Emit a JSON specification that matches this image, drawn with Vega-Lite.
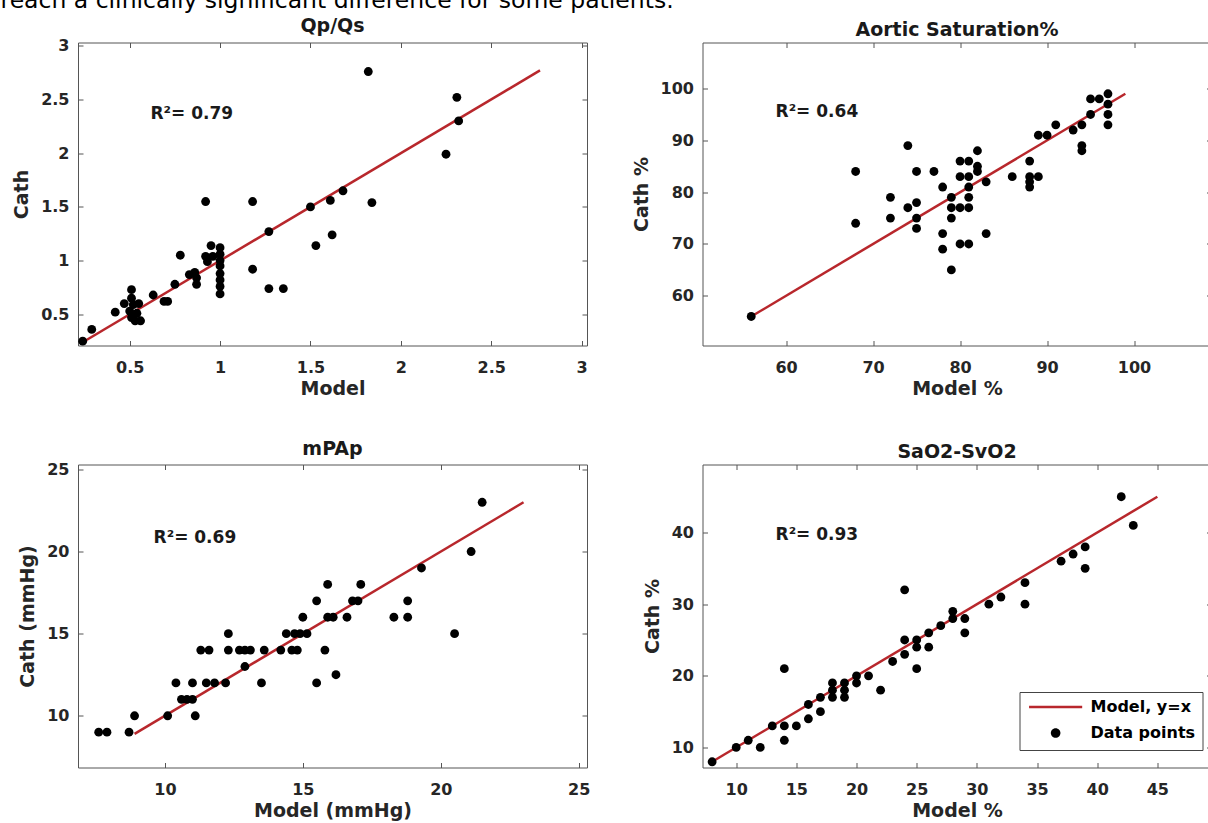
{
  "$schema": "https://vega.github.io/schema/vega-lite/v6.json",
  "usermeta": {"embedOptions": {"actions": false}},
  "background": "white",
  "padding": {"left": 0, "top": -11.5, "right": 0, "bottom": 0},
  "title": {"text": "reach a clinically significant difference for some patients.", "anchor": "start", "frame": "group", "dx": -77.5, "fontSize": 23.5, "fontWeight": "normal", "color": "#000000", "offset": 4, "font": "DejaVu Sans"},
  "columns": 2,
  "spacing": {"row": 119, "column": 115.5},
  "bounds": "flush",
  "datasets": {
    "qp": [
      {"model": 0.24, "cath": 0.25}, {"model": 0.29, "cath": 0.36}, {"model": 0.42, "cath": 0.52}, {"model": 0.47, "cath": 0.6},
      {"model": 0.51, "cath": 0.73}, {"model": 0.51, "cath": 0.65}, {"model": 0.52, "cath": 0.59}, {"model": 0.5, "cath": 0.53},
      {"model": 0.51, "cath": 0.47}, {"model": 0.53, "cath": 0.44}, {"model": 0.56, "cath": 0.44}, {"model": 0.54, "cath": 0.51},
      {"model": 0.55, "cath": 0.6}, {"model": 0.63, "cath": 0.68}, {"model": 0.69, "cath": 0.62}, {"model": 0.71, "cath": 0.62},
      {"model": 0.75, "cath": 0.78}, {"model": 0.78, "cath": 1.05}, {"model": 0.83, "cath": 0.87}, {"model": 0.86, "cath": 0.89},
      {"model": 0.87, "cath": 0.84}, {"model": 0.87, "cath": 0.78}, {"model": 0.92, "cath": 1.55}, {"model": 0.92, "cath": 1.04},
      {"model": 0.93, "cath": 0.99}, {"model": 0.95, "cath": 1.14}, {"model": 0.96, "cath": 1.04}, {"model": 1.0, "cath": 1.12},
      {"model": 1.0, "cath": 1.06}, {"model": 1.0, "cath": 1.0}, {"model": 1.0, "cath": 0.95}, {"model": 1.0, "cath": 0.88},
      {"model": 1.0, "cath": 0.82}, {"model": 1.0, "cath": 0.76}, {"model": 1.0, "cath": 0.69}, {"model": 1.18, "cath": 1.55},
      {"model": 1.18, "cath": 0.92}, {"model": 1.27, "cath": 1.27}, {"model": 1.27, "cath": 0.74}, {"model": 1.35, "cath": 0.74},
      {"model": 1.5, "cath": 1.5}, {"model": 1.53, "cath": 1.14}, {"model": 1.61, "cath": 1.56}, {"model": 1.62, "cath": 1.24},
      {"model": 1.68, "cath": 1.65}, {"model": 1.82, "cath": 2.76}, {"model": 1.84, "cath": 1.54}, {"model": 2.25, "cath": 1.99},
      {"model": 2.31, "cath": 2.52}, {"model": 2.32, "cath": 2.3}
    ],
    "qp_fit": [{"v": 0.24}, {"v": 2.77}],
    "ao": [
      {"model": 56, "cath": 56}, {"model": 68, "cath": 84}, {"model": 68, "cath": 74}, {"model": 72, "cath": 79}, {"model": 72, "cath": 75},
      {"model": 74, "cath": 89}, {"model": 74, "cath": 77}, {"model": 75, "cath": 84}, {"model": 75, "cath": 78}, {"model": 75, "cath": 75},
      {"model": 75, "cath": 73}, {"model": 77, "cath": 84}, {"model": 78, "cath": 81}, {"model": 78, "cath": 72}, {"model": 78, "cath": 69},
      {"model": 79, "cath": 79}, {"model": 79, "cath": 77}, {"model": 79, "cath": 75}, {"model": 79, "cath": 65}, {"model": 80, "cath": 86},
      {"model": 80, "cath": 83}, {"model": 80, "cath": 77}, {"model": 80, "cath": 70}, {"model": 81, "cath": 86}, {"model": 81, "cath": 83},
      {"model": 81, "cath": 81}, {"model": 81, "cath": 79}, {"model": 81, "cath": 77}, {"model": 81, "cath": 70}, {"model": 82, "cath": 88},
      {"model": 82, "cath": 85}, {"model": 82, "cath": 84}, {"model": 83, "cath": 82}, {"model": 83, "cath": 72}, {"model": 86, "cath": 83},
      {"model": 88, "cath": 86}, {"model": 88, "cath": 83}, {"model": 88, "cath": 82}, {"model": 88, "cath": 81}, {"model": 89, "cath": 83},
      {"model": 89, "cath": 91}, {"model": 90, "cath": 91}, {"model": 91, "cath": 93}, {"model": 93, "cath": 92}, {"model": 94, "cath": 93},
      {"model": 94, "cath": 89}, {"model": 94, "cath": 88}, {"model": 95, "cath": 95}, {"model": 95, "cath": 98}, {"model": 96, "cath": 98},
      {"model": 97, "cath": 99}, {"model": 97, "cath": 97}, {"model": 97, "cath": 95}, {"model": 97, "cath": 93}
    ],
    "ao_fit": [{"v": 56}, {"v": 99}],
    "mpap": [
      {"model": 7.6, "cath": 9}, {"model": 7.9, "cath": 9}, {"model": 8.7, "cath": 9}, {"model": 8.9, "cath": 10}, {"model": 10.1, "cath": 10},
      {"model": 10.4, "cath": 12}, {"model": 10.6, "cath": 11}, {"model": 10.8, "cath": 11}, {"model": 11.0, "cath": 11}, {"model": 11.1, "cath": 10},
      {"model": 11.0, "cath": 12}, {"model": 11.3, "cath": 14}, {"model": 11.6, "cath": 14}, {"model": 11.5, "cath": 12}, {"model": 11.8, "cath": 12},
      {"model": 12.2, "cath": 12}, {"model": 12.3, "cath": 15}, {"model": 12.3, "cath": 14}, {"model": 12.7, "cath": 14}, {"model": 12.9, "cath": 14},
      {"model": 12.9, "cath": 13}, {"model": 13.1, "cath": 14}, {"model": 13.5, "cath": 12}, {"model": 13.6, "cath": 14}, {"model": 14.2, "cath": 14},
      {"model": 14.6, "cath": 14}, {"model": 14.8, "cath": 14}, {"model": 14.4, "cath": 15}, {"model": 14.7, "cath": 15}, {"model": 14.9, "cath": 15},
      {"model": 15.15, "cath": 15}, {"model": 15.5, "cath": 12}, {"model": 15.8, "cath": 14}, {"model": 16.2, "cath": 12.5}, {"model": 15.0, "cath": 16},
      {"model": 15.9, "cath": 16}, {"model": 16.1, "cath": 16}, {"model": 16.6, "cath": 16}, {"model": 15.5, "cath": 17}, {"model": 16.8, "cath": 17},
      {"model": 17.0, "cath": 17}, {"model": 15.9, "cath": 18}, {"model": 17.1, "cath": 18}, {"model": 18.3, "cath": 16}, {"model": 18.8, "cath": 16},
      {"model": 18.8, "cath": 17}, {"model": 19.3, "cath": 19}, {"model": 20.5, "cath": 15}, {"model": 21.1, "cath": 20}, {"model": 21.5, "cath": 23}
    ],
    "mpap_fit": [{"v": 8.9}, {"v": 23}],
    "sa": [
      {"model": 8, "cath": 8}, {"model": 10, "cath": 10}, {"model": 11, "cath": 11}, {"model": 12, "cath": 10}, {"model": 13, "cath": 13},
      {"model": 14, "cath": 13}, {"model": 14, "cath": 11}, {"model": 14, "cath": 21}, {"model": 15, "cath": 13}, {"model": 16, "cath": 14},
      {"model": 16, "cath": 16}, {"model": 17, "cath": 15}, {"model": 17, "cath": 17}, {"model": 18, "cath": 17}, {"model": 18, "cath": 18},
      {"model": 18, "cath": 19}, {"model": 19, "cath": 17}, {"model": 19, "cath": 18}, {"model": 19, "cath": 19}, {"model": 20, "cath": 19},
      {"model": 20, "cath": 20}, {"model": 21, "cath": 20}, {"model": 22, "cath": 18}, {"model": 23, "cath": 22}, {"model": 24, "cath": 32},
      {"model": 24, "cath": 25}, {"model": 24, "cath": 23}, {"model": 25, "cath": 25}, {"model": 25, "cath": 24}, {"model": 25, "cath": 21},
      {"model": 26, "cath": 26}, {"model": 26, "cath": 24}, {"model": 27, "cath": 27}, {"model": 28, "cath": 29}, {"model": 28, "cath": 28},
      {"model": 29, "cath": 28}, {"model": 29, "cath": 26}, {"model": 31, "cath": 30}, {"model": 32, "cath": 31}, {"model": 34, "cath": 33},
      {"model": 34, "cath": 30}, {"model": 37, "cath": 36}, {"model": 38, "cath": 37}, {"model": 39, "cath": 38}, {"model": 39, "cath": 35},
      {"model": 42, "cath": 45}, {"model": 43, "cath": 41}
    ],
    "sa_fit": [{"v": 8}, {"v": 45}]
  },
  "concat": [
    {
      "title": "Qp/Qs",
      "width": 509, "height": 303,
      "resolve": {"axis": {"x": "independent", "y": "independent"}},
      "layer": [
        {
          "data": {"name": "qp_fit"},
          "mark": {"type": "line", "color": "#b8272c", "strokeWidth": 2.5},
          "encoding": {
            "x": {"field": "v", "type": "quantitative", "scale": {"domain": [0.214, 3.03], "nice": false, "zero": false},
                  "axis": {"orient": "top", "labels": false, "title": null, "values": [0.5, 1, 1.5, 2, 2.5, 3]}},
            "y": {"field": "v", "type": "quantitative", "scale": {"domain": [0.21, 3.03], "nice": false, "zero": false},
                  "axis": {"orient": "right", "labels": false, "title": null, "values": [0.5, 1, 1.5, 2, 2.5, 3]}}
          }
        },
        {
          "data": {"name": "qp"},
          "mark": {"type": "circle", "size": 78, "opacity": 1, "color": "#000000"},
          "encoding": {
            "x": {"field": "model", "type": "quantitative", "scale": {"domain": [0.214, 3.03], "nice": false, "zero": false},
                  "axis": {"orient": "bottom", "title": "Model", "values": [0.5, 1, 1.5, 2, 2.5, 3], "format": "~g", "labelPadding": 19, "titlePadding": 4}},
            "y": {"field": "cath", "type": "quantitative", "scale": {"domain": [0.21, 3.03], "nice": false, "zero": false},
                  "axis": {"orient": "left", "title": "Cath", "values": [0.5, 1, 1.5, 2, 2.5, 3], "format": "~g", "labelPadding": 14, "titlePadding": 9}}
          }
        },
        {
          "data": {"values": [{"label": "R²= 0.79"}]},
          "mark": {"type": "text", "align": "left", "baseline": "alphabetic", "fontSize": 17, "fontWeight": "bold", "font": "DejaVu Sans", "color": "#1a1a1a"},
          "encoding": {
            "x": {"datum": 0.615, "type": "quantitative", "axis": null},
            "y": {"datum": 2.32, "type": "quantitative", "axis": null},
            "text": {"field": "label"}
          }
        }
      ]
    },
    {
      "title": "Aortic Saturation%",
      "width": 509, "height": 303,
      "resolve": {"axis": {"x": "independent", "y": "independent"}},
      "layer": [
        {
          "data": {"name": "ao_fit"},
          "mark": {"type": "line", "color": "#b8272c", "strokeWidth": 2.5},
          "encoding": {
            "x": {"field": "v", "type": "quantitative", "scale": {"domain": [50.4, 108.9], "nice": false, "zero": false},
                  "axis": {"orient": "top", "labels": false, "title": null, "values": [60, 70, 80, 90, 100]}},
            "y": {"field": "v", "type": "quantitative", "scale": {"domain": [50.4, 108.9], "nice": false, "zero": false},
                  "axis": {"orient": "right", "labels": false, "title": null, "values": [60, 70, 80, 90, 100]}}
          }
        },
        {
          "data": {"name": "ao"},
          "mark": {"type": "circle", "size": 78, "opacity": 1, "color": "#000000"},
          "encoding": {
            "x": {"field": "model", "type": "quantitative", "scale": {"domain": [50.4, 108.9], "nice": false, "zero": false},
                  "axis": {"orient": "bottom", "title": "Model %", "values": [60, 70, 80, 90, 100], "format": "d", "labelPadding": 19, "titlePadding": 4}},
            "y": {"field": "cath", "type": "quantitative", "scale": {"domain": [50.4, 108.9], "nice": false, "zero": false},
                  "axis": {"orient": "left", "title": "Cath %", "values": [60, 70, 80, 90, 100], "format": "d", "labelPadding": 14, "titlePadding": 9}}
          }
        },
        {
          "data": {"values": [{"label": "R²= 0.64"}]},
          "mark": {"type": "text", "align": "left", "baseline": "alphabetic", "fontSize": 17, "fontWeight": "bold", "font": "DejaVu Sans", "color": "#1a1a1a"},
          "encoding": {
            "x": {"datum": 58.8, "type": "quantitative", "axis": null},
            "y": {"datum": 94.6, "type": "quantitative", "axis": null},
            "text": {"field": "label"}
          }
        }
      ]
    },
    {
      "title": "mPAp",
      "width": 509, "height": 303,
      "resolve": {"axis": {"x": "independent", "y": "independent"}},
      "layer": [
        {
          "data": {"name": "mpap_fit"},
          "mark": {"type": "line", "color": "#b8272c", "strokeWidth": 2.5},
          "encoding": {
            "x": {"field": "v", "type": "quantitative", "scale": {"domain": [6.85, 25.3], "nice": false, "zero": false},
                  "axis": {"orient": "top", "labels": false, "title": null, "values": [10, 15, 20, 25]}},
            "y": {"field": "v", "type": "quantitative", "scale": {"domain": [6.85, 25.3], "nice": false, "zero": false},
                  "axis": {"orient": "right", "labels": false, "title": null, "values": [10, 15, 20, 25]}}
          }
        },
        {
          "data": {"name": "mpap"},
          "mark": {"type": "circle", "size": 78, "opacity": 1, "color": "#000000"},
          "encoding": {
            "x": {"field": "model", "type": "quantitative", "scale": {"domain": [6.85, 25.3], "nice": false, "zero": false},
                  "axis": {"orient": "bottom", "title": "Model (mmHg)", "values": [10, 15, 20, 25], "format": "d", "labelPadding": 19, "titlePadding": 4}},
            "y": {"field": "cath", "type": "quantitative", "scale": {"domain": [6.85, 25.3], "nice": false, "zero": false},
                  "axis": {"orient": "left", "title": "Cath (mmHg)", "values": [10, 15, 20, 25], "format": "d", "labelPadding": 14, "titlePadding": 9}}
          }
        },
        {
          "data": {"values": [{"label": "R²= 0.69"}]},
          "mark": {"type": "text", "align": "left", "baseline": "alphabetic", "fontSize": 17, "fontWeight": "bold", "font": "DejaVu Sans", "color": "#1a1a1a"},
          "encoding": {
            "x": {"datum": 9.59, "type": "quantitative", "axis": null},
            "y": {"datum": 20.55, "type": "quantitative", "axis": null},
            "text": {"field": "label"}
          }
        }
      ]
    },
    {
      "title": "SaO2-SvO2",
      "width": 509, "height": 303,
      "resolve": {"axis": {"x": "independent", "y": "independent"}},
      "layer": [
        {
          "data": {"name": "sa_fit"},
          "mark": {"type": "line", "color": "#b8272c", "strokeWidth": 2.5},
          "encoding": {
            "x": {"field": "v", "type": "quantitative", "scale": {"domain": [7.2, 49.5], "nice": false, "zero": false},
                  "axis": {"orient": "top", "labels": false, "title": null, "values": [10, 15, 20, 25, 30, 35, 40, 45]}},
            "y": {"field": "v", "type": "quantitative", "scale": {"domain": [7.2, 49.5], "nice": false, "zero": false},
                  "axis": {"orient": "right", "labels": false, "title": null, "values": [10, 20, 30, 40]}}
          }
        },
        {
          "data": {"name": "sa"},
          "mark": {"type": "circle", "size": 78, "opacity": 1, "color": "#000000"},
          "encoding": {
            "x": {"field": "model", "type": "quantitative", "scale": {"domain": [7.2, 49.5], "nice": false, "zero": false},
                  "axis": {"orient": "bottom", "title": "Model %", "values": [10, 15, 20, 25, 30, 35, 40, 45], "format": "d", "labelPadding": 19, "titlePadding": 4}},
            "y": {"field": "cath", "type": "quantitative", "scale": {"domain": [7.2, 49.5], "nice": false, "zero": false},
                  "axis": {"orient": "left", "title": "Cath %", "values": [10, 20, 30, 40], "format": "d", "labelPadding": 14, "titlePadding": 9}}
          }
        },
        {
          "data": {"values": [{"label": "R²= 0.93"}]},
          "mark": {"type": "text", "align": "left", "baseline": "alphabetic", "fontSize": 17, "fontWeight": "bold", "font": "DejaVu Sans", "color": "#1a1a1a"},
          "encoding": {
            "x": {"datum": 13.27, "type": "quantitative", "axis": null},
            "y": {"datum": 38.9, "type": "quantitative", "axis": null},
            "text": {"field": "label"}
          }
        },
        {
          "data": {"values": []},
          "mark": {"type": "point", "filled": true, "opacity": 1, "strokeWidth": 2.5},
          "encoding": {
            "fill": {"datum": "Data points", "type": "nominal",
                     "scale": {"domain": ["Model, y=x", "Data points"], "range": ["transparent", "#000000"]},
                     "legend": {"title": null, "orient": "none", "legendX": 941.5, "legendY": 649.5, "symbolSize": 70, "symbolStrokeWidth": 2.5, "labelOffset": 48, "rowPadding": 8, "padding": 7,
                                "strokeColor": "#444444", "fillColor": "#ffffff", "labelFontSize": 16, "labelFontWeight": "bold", "labelFont": "DejaVu Sans", "labelColor": "#000000"}},
            "stroke": {"datum": "Data points", "type": "nominal",
                       "scale": {"domain": ["Model, y=x", "Data points"], "range": ["#b8272c", "transparent"]},
                       "legend": {"title": null, "orient": "none", "legendX": 941.5, "legendY": 649.5, "symbolSize": 70, "symbolStrokeWidth": 2.5, "labelOffset": 48, "rowPadding": 8, "padding": 7,
                                  "strokeColor": "#444444", "fillColor": "#ffffff", "labelFontSize": 16, "labelFontWeight": "bold", "labelFont": "DejaVu Sans", "labelColor": "#000000"}},
            "shape": {"datum": "Data points", "type": "nominal",
                      "scale": {"domain": ["Model, y=x", "Data points"], "range": ["M-1.3,0H11.4", "M6.2,0A1.15,1.15,0,1,1,3.9,0A1.15,1.15,0,1,1,6.2,0Z"]},
                      "legend": {"title": null, "orient": "none", "legendX": 941.5, "legendY": 649.5, "symbolSize": 70, "symbolStrokeWidth": 2.5, "labelOffset": 48, "rowPadding": 8, "padding": 7,
                                 "strokeColor": "#444444", "fillColor": "#ffffff", "labelFontSize": 16, "labelFontWeight": "bold", "labelFont": "DejaVu Sans", "labelColor": "#000000"}}
          }
        }
      ]
    }
  ],
  "config": {
    "font": "DejaVu Sans",
    "view": {"stroke": "#555555", "strokeWidth": 1},
    "axis": {"labelFont": "DejaVu Sans", "labelFontSize": 16, "labelFontWeight": "bold", "labelColor": "#262626",
             "titleFont": "DejaVu Sans", "titleFontSize": 19, "titleFontWeight": "bold", "titleColor": "#262626",
             "grid": false, "domain": false, "ticks": true, "tickSize": -5, "tickColor": "#555555", "tickWidth": 1, "labelFlush": false},
    "title": {"font": "DejaVu Sans", "fontSize": 19, "fontWeight": "bold", "color": "#1a1a1a", "offset": 2, "frame": "group", "anchor": "middle"}
  }
}
